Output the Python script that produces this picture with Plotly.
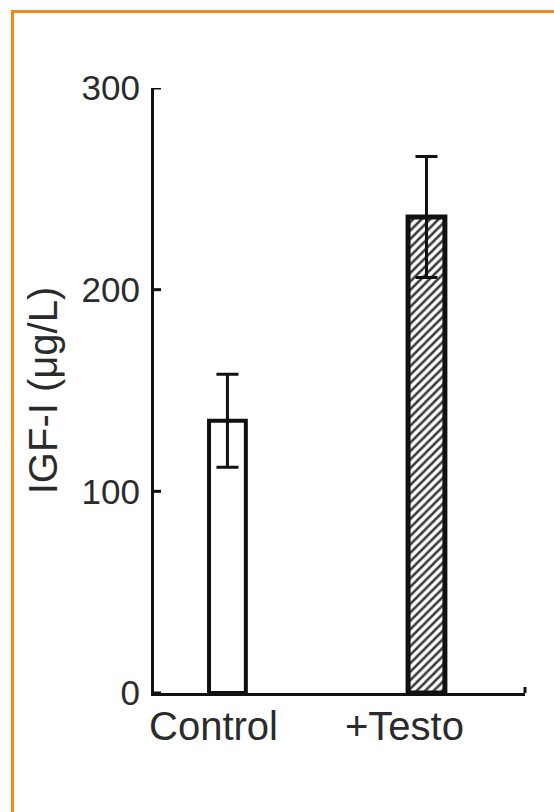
import plotly.graph_objects as go

categories = ["Control", "+Testo"]
means = [135, 236]
errors = [23, 30]
y_ticks = [0, 100, 200, 300]
y_title = "IGF-I (μg/L)"

FONT = "Liberation Sans, Arial, Helvetica, sans-serif"
TXT = "#2b2b2b"
INK = "#111111"

fig = go.Figure()
fig.add_trace(go.Bar(
    x=list(range(len(categories))),
    y=means,
    width=0.185,
    marker=dict(
        color="white",
        line=dict(color=INK, width=[4, 5]),
        pattern=dict(shape=["", "/"], fgcolor="#3a3a3a", bgcolor="white",
                     size=6, solidity=0.42, fillmode="replace"),
    ),
    error_y=dict(type="data", array=errors, visible=True,
                 color=INK, thickness=3, width=11),
    showlegend=False,
))

annotations = []
label_shift = [-14, -22]
for i, c in enumerate(categories):
    annotations.append(dict(
        x=i, y=0, xref="x", yref="y", text=c, showarrow=False,
        yanchor="top", yshift=-9, xshift=label_shift[i],
        font=dict(family=FONT, size=40, color=TXT),
    ))

shapes = []
# inward-pointing y ticks, one per tick value
for v in y_ticks:
    shapes.append(dict(type="line", xref="paper", yref="y",
                       x0=0, x1=0.019, y0=v, y1=v,
                       line=dict(color=INK, width=3)))
# small upward tick at right end of x axis
shapes.append(dict(type="line", xref="paper", yref="y", x0=1, x1=1,
                   y0=0, y1=3, line=dict(color=INK, width=3)))
# orange frame (top and left edges visible)
shapes.append(dict(type="rect", xref="paper", yref="paper",
                   x0=-0.3814, x1=1.3, y0=-0.3, y1=1.1264,
                   line=dict(color="#EF8A1C", width=3),
                   fillcolor="rgba(0,0,0,0)", layer="above"))

fig.update_layout(
    width=554, height=812,
    margin=dict(l=154, r=29, t=88, b=119),
    paper_bgcolor="white", plot_bgcolor="white",
    font=dict(family=FONT, color=TXT),
    annotations=annotations,
    shapes=shapes,
    xaxis=dict(
        range=[-0.369, 1.495], showgrid=False, zeroline=False,
        showline=True, linecolor=INK, linewidth=3,
        showticklabels=False, ticks="",
    ),
    yaxis=dict(
        range=[0, 300], tickvals=y_ticks, showgrid=False, zeroline=False,
        showline=True, linecolor=INK, linewidth=3,
        ticks="", 
        tickfont=dict(family=FONT, size=35, color=TXT),
        ticklabelstandoff=4,
        title=dict(text=y_title, font=dict(family=FONT, size=40, color=TXT),
                   standoff=12),
    ),
)

fig.write_html("out.html")
